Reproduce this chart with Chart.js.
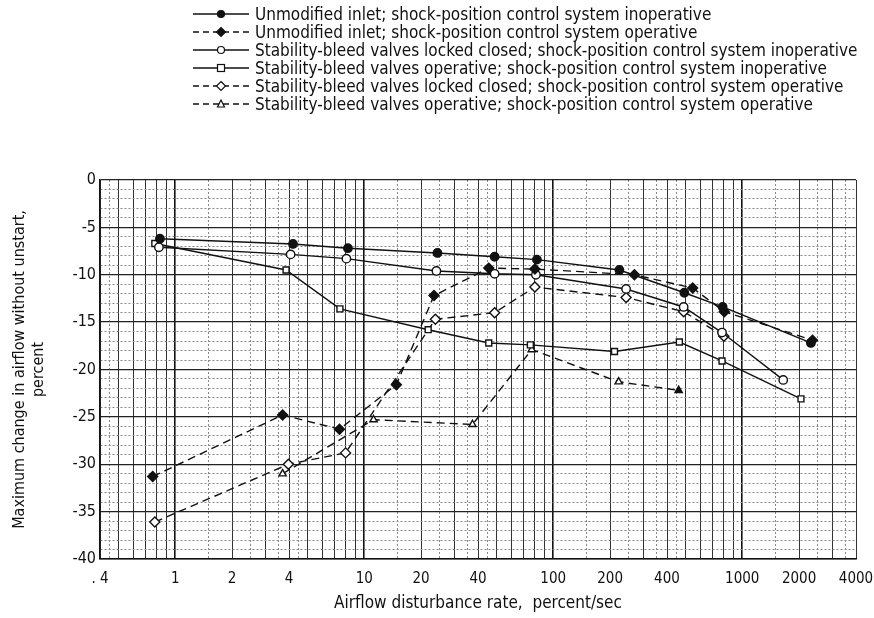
<!DOCTYPE html>
<html>
<head>
<meta charset="utf-8">
<script src="https://cdn.jsdelivr.net/npm/chart.js@4.4.1/dist/chart.umd.min.js"></script>
<style>
  body { margin: 0; background: #fff; }
  #wrap { position: relative; width: 874px; height: 618px; }
  #legend { position: absolute; left: 193px; top: 5px; font-family: "DejaVu Sans Condensed", "Liberation Sans Narrow", sans-serif; font-size: 17px; color: #111; }
  #legend .row { height: 18px; display: flex; align-items: center; white-space: nowrap; }
  #legend svg { margin-right: 6px; }
</style>
</head>
<body>
<div id="wrap">
  <canvas id="chart" width="874" height="618"></canvas>
  <div id="legend"></div>
</div>
<script>
// x = airflow disturbance rate, percent/sec ; y = max change in airflow, percent
const unmodInopX = [0.83, 4.2, 8.2, 24.4, 49, 82, 224, 494, 788, 2309];
const unmodInopY = [-6.2, -6.75, -7.2, -7.7, -8.1, -8.4, -9.5, -11.9, -13.4, -17.2];

const unmodOpX = [0.76, 3.7, 7.4, 14.8, 23.4, 45.6, 80, 269, 547, 804, 2355];
const unmodOpY = [-31.3, -24.8, -26.3, -21.6, -12.2, -9.3, -9.4, -10.0, -11.4, -13.9, -16.9];

const closedInopX = [0.82, 4.08, 8.05, 24.1, 49, 81, 243, 490, 782, 1648];
const closedInopY = [-7.1, -7.85, -8.3, -9.6, -9.9, -10.0, -11.5, -13.4, -16.1, -21.1];

const bleedInopX = [0.78, 3.86, 7.44, 21.8, 45.6, 75.7, 211, 465, 782, 2046];
const bleedInopY = [-6.7, -9.5, -13.6, -15.8, -17.2, -17.4, -18.1, -17.1, -19.1, -23.1];

const closedOpX = [0.78, 3.97, 7.97, 23.8, 49, 80, 243, 490, 800];
const closedOpY = [-36.1, -30.0, -28.8, -14.7, -14.0, -11.3, -12.4, -13.9, -16.5];

const bleedOpX = [3.7, 11.2, 37.4, 77, 222, 461];
const bleedOpY = [-31.0, -25.3, -25.8, -17.9, -21.3, -22.2];

const xTickValues = [0.4, 1, 2, 4, 10, 20, 40, 100, 200, 400, 1000, 2000, 4000];
const xTickLabels = ['. 4', '1', '2', '4', '10', '20', '40', '100', '200', '400', '1000', '2000', '4000'];
const xGridSteps = [1, 1.5, 2, 2.5, 3, 3.5, 4, 4.5, 5, 6, 7, 8, 9];
const yTickLabels = [0, -5, -10, -15, -20, -25, -30, -35, -40];

const FONT = '"DejaVu Sans Condensed", "Liberation Sans Narrow", sans-serif';

function pts(xs, ys) {
    return xs.map((x, i) => ({ x: x, y: ys[i] }));
}

const series = [
    { label: 'Unmodified inlet;  shock-position control system inoperative', x: unmodInopX, y: unmodInopY, shape: 'circle', filled: true, dashed: false },
    { label: 'Unmodified inlet;  shock-position control system operative', x: unmodOpX, y: unmodOpY, shape: 'rectRot', filled: true, dashed: true },
    { label: 'Stability-bleed valves locked closed;  shock-position control system inoperative', x: closedInopX, y: closedInopY, shape: 'circle', filled: false, dashed: false },
    { label: 'Stability-bleed valves operative;  shock-position control system inoperative', x: bleedInopX, y: bleedInopY, shape: 'rect', filled: false, dashed: false },
    { label: 'Stability-bleed valves locked closed;  shock-position control system operative', x: closedOpX, y: closedOpY, shape: 'rectRot', filled: false, dashed: true },
    { label: 'Stability-bleed valves operative;  shock-position control system operative', x: bleedOpX, y: bleedOpY, shape: 'triangle', filled: false, dashed: true }
];

const datasets = series.map(s => {
    const bg = s.x.map((v, i) => s.filled ? '#111' : '#fff');
    if (s.shape === 'triangle') bg[bg.length - 1] = '#111';
    return {
        label: s.label,
        data: pts(s.x, s.y),
        borderColor: '#111',
        borderWidth: 1.4,
        borderDash: s.dashed ? [8, 5] : [],
        pointStyle: s.shape,
        pointRadius: s.shape === 'rectRot' ? 5 : 4.2,
        pointBorderWidth: 1.4,
        pointBackgroundColor: bg,
        pointBorderColor: '#111',
        fill: false,
        tension: 0
    };
});

// gridline values for the log axis
const xGrid = [];
[0.1, 1, 10, 100, 1000].forEach(d => {
    xGridSteps.forEach(m => {
        const v = +(d * m).toPrecision(4);
        if (v >= 0.4 && v <= 4000) xGrid.push(v);
    });
});

function isInt(v) {
    const d = Math.pow(10, Math.floor(Math.log10(v) + 1e-9));
    const m = v / d;
    return Math.abs(m - Math.round(m)) < 1e-6;
}

new Chart(document.getElementById('chart'), {
    type: 'line',
    data: { datasets: datasets },
    options: {
        responsive: false,
        animation: false,
        layout: { padding: { top: 180, right: 18, left: 0, bottom: 0 } },
        plugins: { legend: { display: false }, tooltip: { enabled: false } },
        scales: {
            x: {
                type: 'logarithmic',
                min: 0.4,
                max: 4000,
                afterBuildTicks: scale => { scale.ticks = xGrid.map(v => ({ value: v })); },
                afterFit: scale => {
                    scale.height = 59;
                    scale.paddingRight = 0;
                    scale.paddingLeft = 0;
                },
                ticks: {
                    autoSkip: false,
                    maxRotation: 0,
                    padding: 11,
                    color: '#111',
                    font: { family: FONT, size: 15 },
                    callback: value => {
                        const i = xTickValues.findIndex(t => Math.abs(t - value) / t < 1e-6);
                        return i >= 0 ? xTickLabels[i] : '';
                    }
                },
                grid: {
                    drawTicks: false,
                    color: ctx => {
                        const v = ctx.tick && ctx.tick.value;
                        if (!v) return '#999';
                        const lg = Math.log10(v);
                        if (Math.abs(lg - Math.round(lg)) < 1e-6) return '#111';
                        return isInt(v) ? '#333' : '#888';
                    },
                    lineWidth: ctx => {
                        const v = ctx.tick && ctx.tick.value;
                        if (!v) return 1;
                        const lg = Math.log10(v);
                        return Math.abs(lg - Math.round(lg)) < 1e-6 ? 1.6 : 1;
                    }
                },
                border: {
                    color: '#111',
                    width: 1.5,
                    dash: ctx => {
                        const v = ctx.tick && ctx.tick.value;
                        return v && !isInt(v) ? [2, 2] : [];
                    }
                },
                title: {
                    display: true,
                    text: 'Airflow disturbance rate,  percent/sec',
                    color: '#111',
                    font: { family: FONT, size: 17 },
                    padding: { top: 0, bottom: 4 }
                }
            },
            y: {
                min: -40,
                max: 0,
                afterFit: scale => { scale.width = 100; },
                ticks: {
                    stepSize: 1,
                    autoSkip: false,
                    padding: 4,
                    color: '#111',
                    font: { family: FONT, size: 16 },
                    callback: value => yTickLabels.includes(value) ? String(value) : ''
                },
                grid: {
                    drawTicks: false,
                    color: ctx => ctx.tick && ctx.tick.value % 5 === 0 ? '#222' : '#888',
                    lineWidth: ctx => ctx.tick && ctx.tick.value % 5 === 0 ? 1.3 : 1
                },
                border: {
                    color: '#111',
                    width: 1.5,
                    dash: ctx => ctx.tick && ctx.tick.value % 5 !== 0 ? [2, 2] : []
                },
                title: {
                    display: true,
                    text: ['Maximum change in airflow without unstart,', 'percent'],
                    color: '#111',
                    font: { family: FONT, size: 16 },
                    padding: { top: 10, bottom: 0 }
                }
            }
        }
    }
});

// legend drawn as html rows with small svg samples
const legend = document.getElementById('legend');
series.forEach(s => {
    const row = document.createElement('div');
    row.className = 'row';
    const fill = s.filled ? '#111' : '#fff';
    let marker = '';
    if (s.shape === 'circle') marker = `<circle cx="28" cy="7" r="3.5" fill="${fill}" stroke="#111" stroke-width="1.2"/>`;
    if (s.shape === 'rect') marker = `<rect x="24.5" y="3.5" width="7" height="7" fill="${fill}" stroke="#111" stroke-width="1.2"/>`;
    if (s.shape === 'rectRot') marker = `<polygon points="28,2.5 32.5,7 28,11.5 23.5,7" fill="${fill}" stroke="#111" stroke-width="1.2"/>`;
    if (s.shape === 'triangle') marker = `<polygon points="28,3 31.5,10 24.5,10" fill="${fill}" stroke="#111" stroke-width="1.2"/>`;
    const dash = s.dashed ? 'stroke-dasharray="6,4"' : '';
    row.innerHTML = `<svg width="56" height="14"><line x1="0" y1="7" x2="56" y2="7" stroke="#111" stroke-width="1.3" ${dash}/>${marker}</svg><span>${s.label}</span>`;
    legend.appendChild(row);
});
</script>
</body>
</html>
